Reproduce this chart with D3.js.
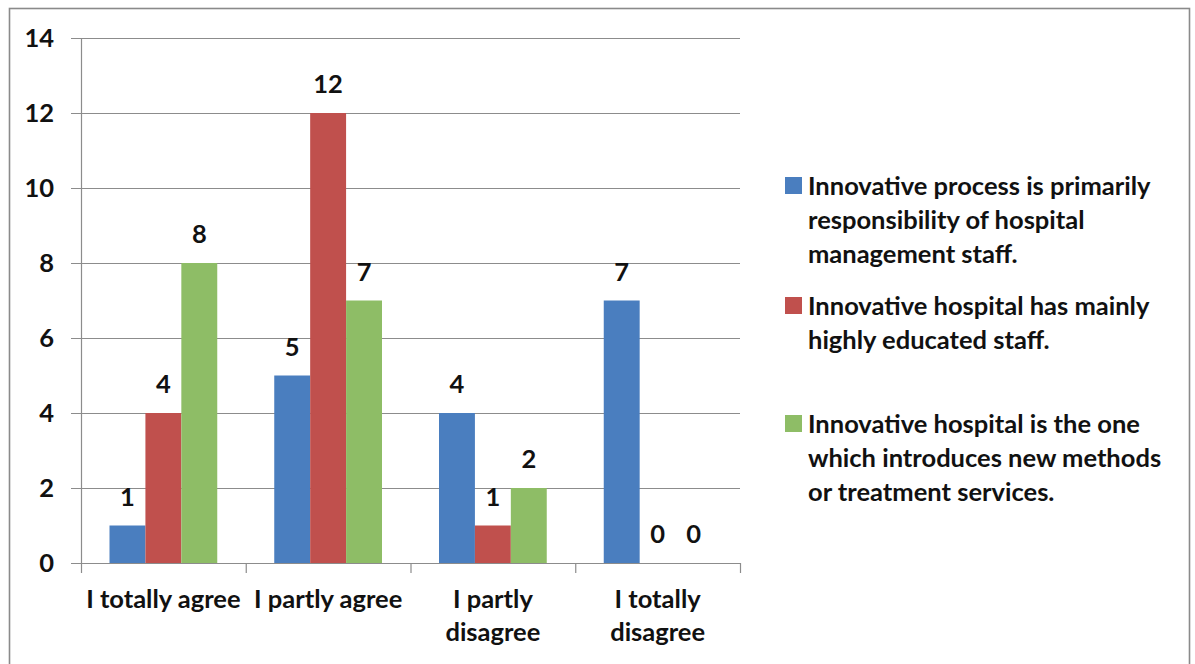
<!DOCTYPE html>
<html>
<head>
<meta charset="utf-8">
<script src="https://cdn.jsdelivr.net/npm/d3@7"></script>
<style>
  body { margin: 0; background: #fff; }
  svg text { font-family: Lato, "Open Sans", sans-serif; font-weight: bold; fill: #111; }
</style>
</head>
<body>
<div id="chart"></div>
<script>
// chart data
var categories = ["I totally agree", "I partly agree", "I partly disagree", "I totally disagree"];
var seriesNames = [
  "Innovative process is primarily responsibility of hospital management staff.",
  "Innovative hospital has mainly highly educated staff.",
  "Innovative hospital is the one which introduces new methods or treatment services."
];
var processValues = [1, 5, 4, 7];
var educatedValues = [4, 12, 1, 0];
var methodsValues = [8, 7, 2, 0];
var yTicks = [0, 2, 4, 6, 8, 10, 12, 14];
var colors = ["#4a7ebf", "#c0504d", "#8ebd66"];

var seriesValues = [processValues, educatedValues, methodsValues];

const width = 1195;
const height = 664;
const plotLeft = 81, plotRight = 740, plotTop = 38, plotBottom = 563;
const fontSize = 25.5;

const svg = d3.select("#chart")
              .append("svg")
              .attr("width", width)
              .attr("height", height);

// outer frame
svg.append("rect")
   .attr("x", 9.5)
   .attr("y", 8.5)
   .attr("width", 1180)
   .attr("height", 700)
   .attr("fill", "none")
   .attr("stroke", "#8a8a8a")
   .attr("stroke-width", 1.6);

const x0 = d3.scaleBand()
             .domain(categories)
             .range([plotLeft, plotRight]);

const gap = 28.5;
const x1 = d3.scaleBand()
             .domain(d3.range(seriesValues.length))
             .range([gap, x0.bandwidth() - gap]);

const y = d3.scaleLinear()
            .domain([0, 14])
            .range([plotBottom, plotTop]);

// gridlines
svg.append("g")
   .selectAll("line")
   .data(yTicks)
   .enter()
   .append("line")
   .attr("x1", plotLeft - 10)
   .attr("x2", plotRight)
   .attr("y1", (d) => y(d) + 0.5)
   .attr("y2", (d) => y(d) + 0.5)
   .attr("stroke", "#8c8c8c")
   .attr("stroke-width", 1.2);

// y axis labels
svg.append("g")
   .selectAll("text")
   .data(yTicks)
   .enter()
   .append("text")
   .attr("x", 54)
   .attr("y", (d) => y(d) + 9)
   .attr("text-anchor", "end")
   .style("font-size", fontSize + "px")
   .text((d) => d);

// bars
const groups = svg.append("g")
   .selectAll("g")
   .data(categories)
   .enter()
   .append("g")
   .attr("transform", (d) => "translate(" + x0(d) + ",0)");

groups.selectAll("rect")
   .data((d, i) => seriesValues.map((s, j) => ({ s: j, v: s[i] })))
   .enter()
   .append("rect")
   .attr("x", (d) => x1(d.s))
   .attr("y", (d) => y(d.v))
   .attr("width", x1.bandwidth())
   .attr("height", (d) => y(0) - y(d.v))
   .attr("fill", (d) => colors[d.s]);

groups.selectAll("text")
   .data((d, i) => seriesValues.map((s, j) => ({ s: j, v: s[i] })))
   .enter()
   .append("text")
   .attr("x", (d) => x1(d.s) + x1.bandwidth() / 2)
   .attr("y", (d) => y(d.v) - 20)
   .attr("text-anchor", "middle")
   .style("font-size", fontSize + "px")
   .text((d) => d.v);

// axes lines
svg.append("line")
   .attr("x1", plotLeft + 0.5).attr("x2", plotLeft + 0.5)
   .attr("y1", plotTop).attr("y2", plotBottom)
   .attr("stroke", "#8c8c8c").attr("stroke-width", 1.2);

svg.append("g")
   .selectAll("line")
   .data(d3.range(categories.length + 1))
   .enter()
   .append("line")
   .attr("x1", (d) => plotLeft + d * x0.step() + 0.5)
   .attr("x2", (d) => plotLeft + d * x0.step() + 0.5)
   .attr("y1", plotBottom)
   .attr("y2", plotBottom + 10)
   .attr("stroke", "#8c8c8c")
   .attr("stroke-width", 1.2);

// category labels, wrapped to the band width
const catLabels = svg.append("g")
   .selectAll("text")
   .data(categories)
   .enter()
   .append("text")
   .attr("text-anchor", "middle")
   .style("font-size", fontSize + "px");

catLabels.each(function(d) {
  const t = d3.select(this);
  const cx = x0(d) + x0.bandwidth() / 2;
  const words = d.split(" ");
  let lines = [], line = [];
  const probe = t.append("tspan");
  words.forEach(function(w) {
    const test = line.concat(w).join(" ");
    probe.text(test);
    if (probe.node().getComputedTextLength() > x0.bandwidth() - 2 && line.length) {
      lines.push(line.join(" "));
      line = [w];
    } else {
      line.push(w);
    }
  });
  lines.push(line.join(" "));
  probe.remove();
  lines.forEach(function(l, i) {
    t.append("tspan").attr("x", cx).attr("y", 608 + i * 33).text(l);
  });
});

// legend
const legendLines = [
  ["Innovative process is primarily", "responsibility of hospital", "management staff."],
  ["Innovative hospital has mainly", "highly educated staff."],
  ["Innovative hospital is the one", "which introduces new methods", "or treatment services."]
];
const legendTop = [177, 297, 415];

const legend = svg.append("g")
   .selectAll("g")
   .data(seriesNames)
   .enter()
   .append("g")
   .attr("transform", (d, i) => "translate(785," + legendTop[i] + ")");

legend.append("rect")
   .attr("width", 17)
   .attr("height", 17)
   .attr("fill", (d, i) => colors[i]);

legend.append("text")
   .style("font-size", fontSize + "px")
   .selectAll("tspan")
   .data((d, i) => legendLines[i])
   .enter()
   .append("tspan")
   .attr("x", 23)
   .attr("y", (d, i) => 18 + i * 34)
   .text((d) => d);
</script>
</body>
</html>
